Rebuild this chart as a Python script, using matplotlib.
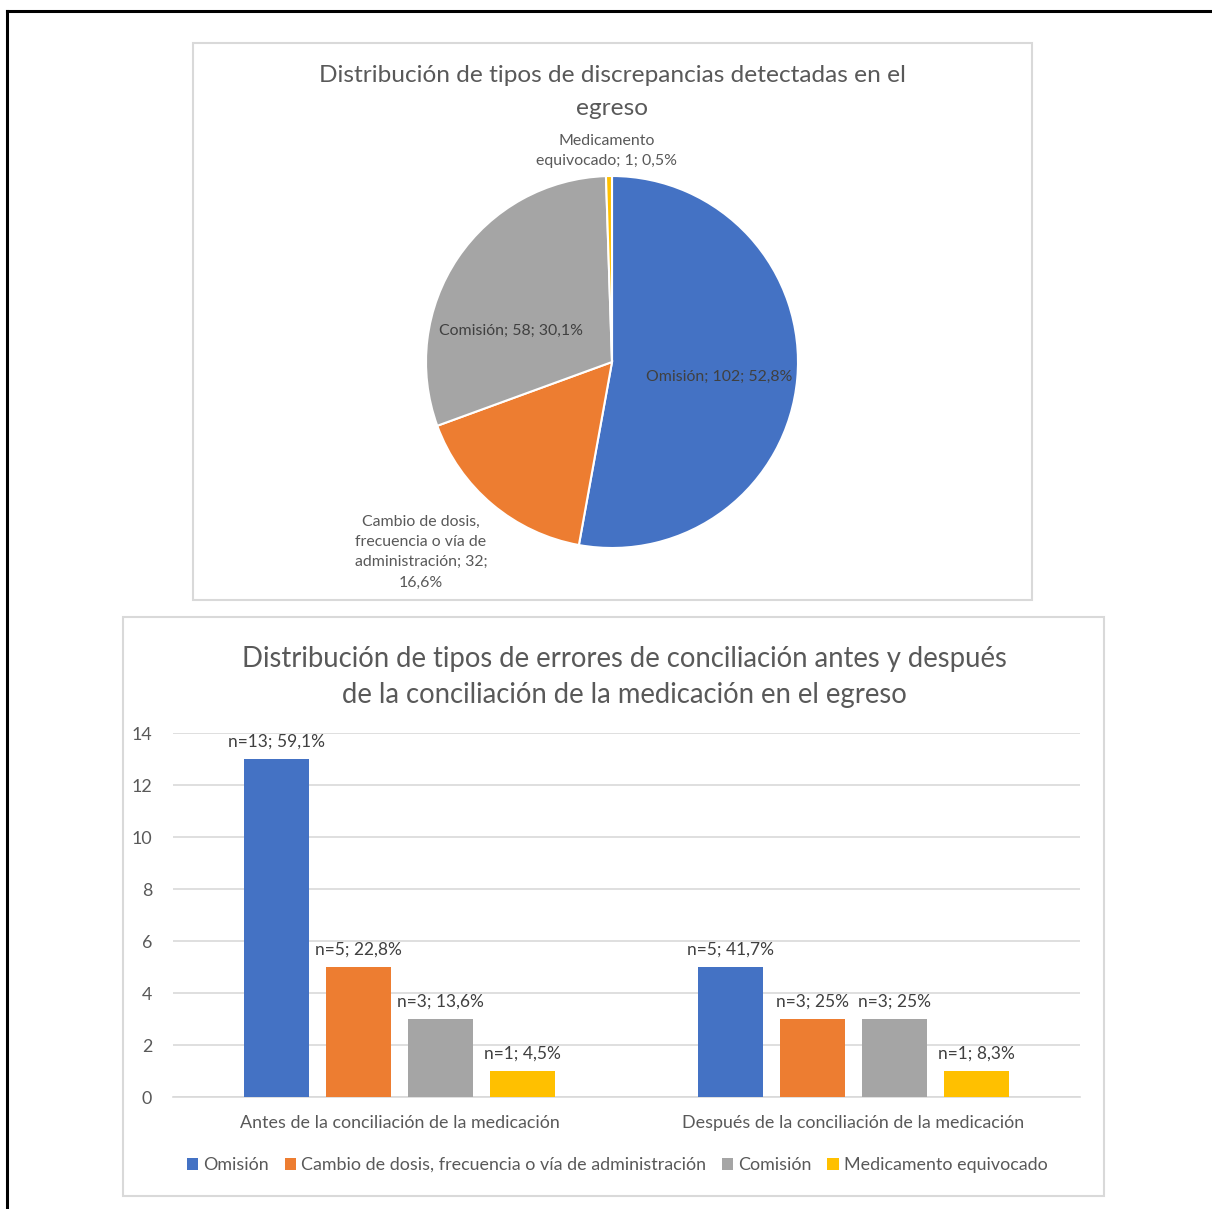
import numpy as np
import matplotlib
matplotlib.use("Agg")
import matplotlib.pyplot as plt
from matplotlib.patches import Rectangle
from matplotlib.lines import Line2D

plt.rcParams['font.family'] = ['Lato', 'DejaVu Sans']

W, H = 1212, 1209

# Datos del gráfico de torta
pie_labels = ["Omisión", "Cambio de dosis,\nfrecuencia o vía de\nadministración", "Comisión",
              "Medicamento\nequivocado"]
pie_values = [102, 32, 58, 1]
pie_pcts = ["52,8%", "16,6%", "30,1%", "0,5%"]

# Datos del gráfico de barras
categories = ["Antes de la conciliación de la medicación", "Después de la conciliación de la medicación"]
series_names = ["Omisión", "Cambio de dosis, frecuencia o vía de administración", "Comisión",
                "Medicamento equivocado"]
before_vals = [13, 5, 3, 1]
after_vals = [5, 3, 3, 1]
before_pcts = ["59,1%", "22,8%", "13,6%", "4,5%"]
after_pcts = ["41,7%", "25%", "25%", "8,3%"]

colors = ["#4472C4", "#ED7D31", "#A5A5A5", "#FFC000"]
TXT = "#595959"
GRID = "#D9D9D9"


def px_rect(x0, y0, w, h):
    """Convierte un rectángulo en píxeles (origen arriba-izquierda) a coordenadas de figura."""
    return [x0 / W, 1 - (y0 + h) / H, w / W, h / H]


fig = plt.figure(figsize=(W / 100, H / 100), dpi=100)

# Bordes negros exteriores
fig.add_artist(Line2D([7 / W, 1], [1 - 11 / H, 1 - 11 / H], color="black", lw=2.2))
fig.add_artist(Line2D([7 / W, 7 / W], [0, 1 - 11 / H], color="black", lw=2.2))

# Marcos de los gráficos
for (x0, y0, w, h) in [(193, 43, 839, 557), (123, 617, 981, 579)]:
    fig.add_artist(Rectangle((x0 / W, 1 - (y0 + h) / H), w / W, h / H, transform=fig.transFigure,
                             facecolor="none", edgecolor=GRID, lw=1.5))

# ---- Gráfico de torta ----
fig.text(612 / W, 1 - 92 / H, "Distribución de tipos de discrepancias detectadas en el\negreso",
         ha="center", va="center", fontsize=17.6, color=TXT, linespacing=1.65)

ax1 = fig.add_axes(px_rect(426, 176, 372, 372))
wedges, _ = ax1.pie(pie_values, colors=colors, startangle=90, counterclock=False,
                    wedgeprops=dict(edgecolor="white", linewidth=1.5))
ax1.set_xlim(-1, 1)
ax1.set_ylim(-1, 1)

# posición de etiquetas: (radio, ajuste de ángulo)
label_pos = [(0.58, -3), (1.45, -5), (0.57, 17), (1.135, 0.5)]
for w, lab, val, pct, (r, da) in zip(wedges, pie_labels, pie_values, pie_pcts, label_pos):
    ang = np.deg2rad((w.theta1 + w.theta2) / 2 + da)
    if lab.startswith("Cambio"):
        txt = lab + "; " + str(val) + ";\n" + pct
    else:
        txt = lab + "; " + str(val) + "; " + pct
    ax1.text(r * np.cos(ang), r * np.sin(ang), txt, ha="center", va="center",
             fontsize=11.4, color="#404040" if r < 1 else TXT, linespacing=1.55)

# ---- Gráfico de barras ----
fig.text(624 / W, 1 - 677 / H,
         "Distribución de tipos de errores de conciliación antes y después\n"
         "de la conciliación de la medicación en el egreso",
         ha="center", va="center", fontsize=19.8, color=TXT, linespacing=1.5)

ax2 = fig.add_axes(px_rect(173, 733, 907, 364))
x = np.arange(len(categories))
step = 0.181
width = 0.143
for i in range(4):
    vals = [before_vals[i], after_vals[i]]
    pcts = [before_pcts[i], after_pcts[i]]
    pos = x + (i - 1.5) * step
    ax2.bar(pos, vals, width=width, color=colors[i], label=series_names[i], zorder=3)
    for p, v, pc in zip(pos, vals, pcts):
        ax2.annotate("n=%d; %s" % (v, pc), (p, v), xytext=(0, 7), textcoords="offset points",
                     ha="center", va="bottom", fontsize=12.5, color="#404040")

ax2.set_xlim(-0.5, 1.5)
ax2.set_ylim(0, 14)
ax2.set_yticks(range(0, 15, 2))
ax2.set_xticks(x)
ax2.set_xticklabels(categories)
ax2.yaxis.grid(True, color=GRID, lw=1.2, zorder=0)
ax2.set_axisbelow(True)
for s in ["top", "right", "left"]:
    ax2.spines[s].set_visible(False)
ax2.spines["bottom"].set_color(GRID)
ax2.spines["bottom"].set_linewidth(1.2)
ax2.tick_params(axis="both", length=0, labelsize=12.9, labelcolor=TXT)
ax2.tick_params(axis="y", pad=15)
ax2.tick_params(axis="x", pad=13)

fig.legend(loc="center", bbox_to_anchor=(617 / W, 1 - 1165 / H), ncol=4, frameon=False,
           fontsize=12.9, labelcolor=TXT, handlelength=0.65, handleheight=0.65, handletextpad=0.25,
           columnspacing=0.9)

fig.savefig("out.png", dpi=100)
